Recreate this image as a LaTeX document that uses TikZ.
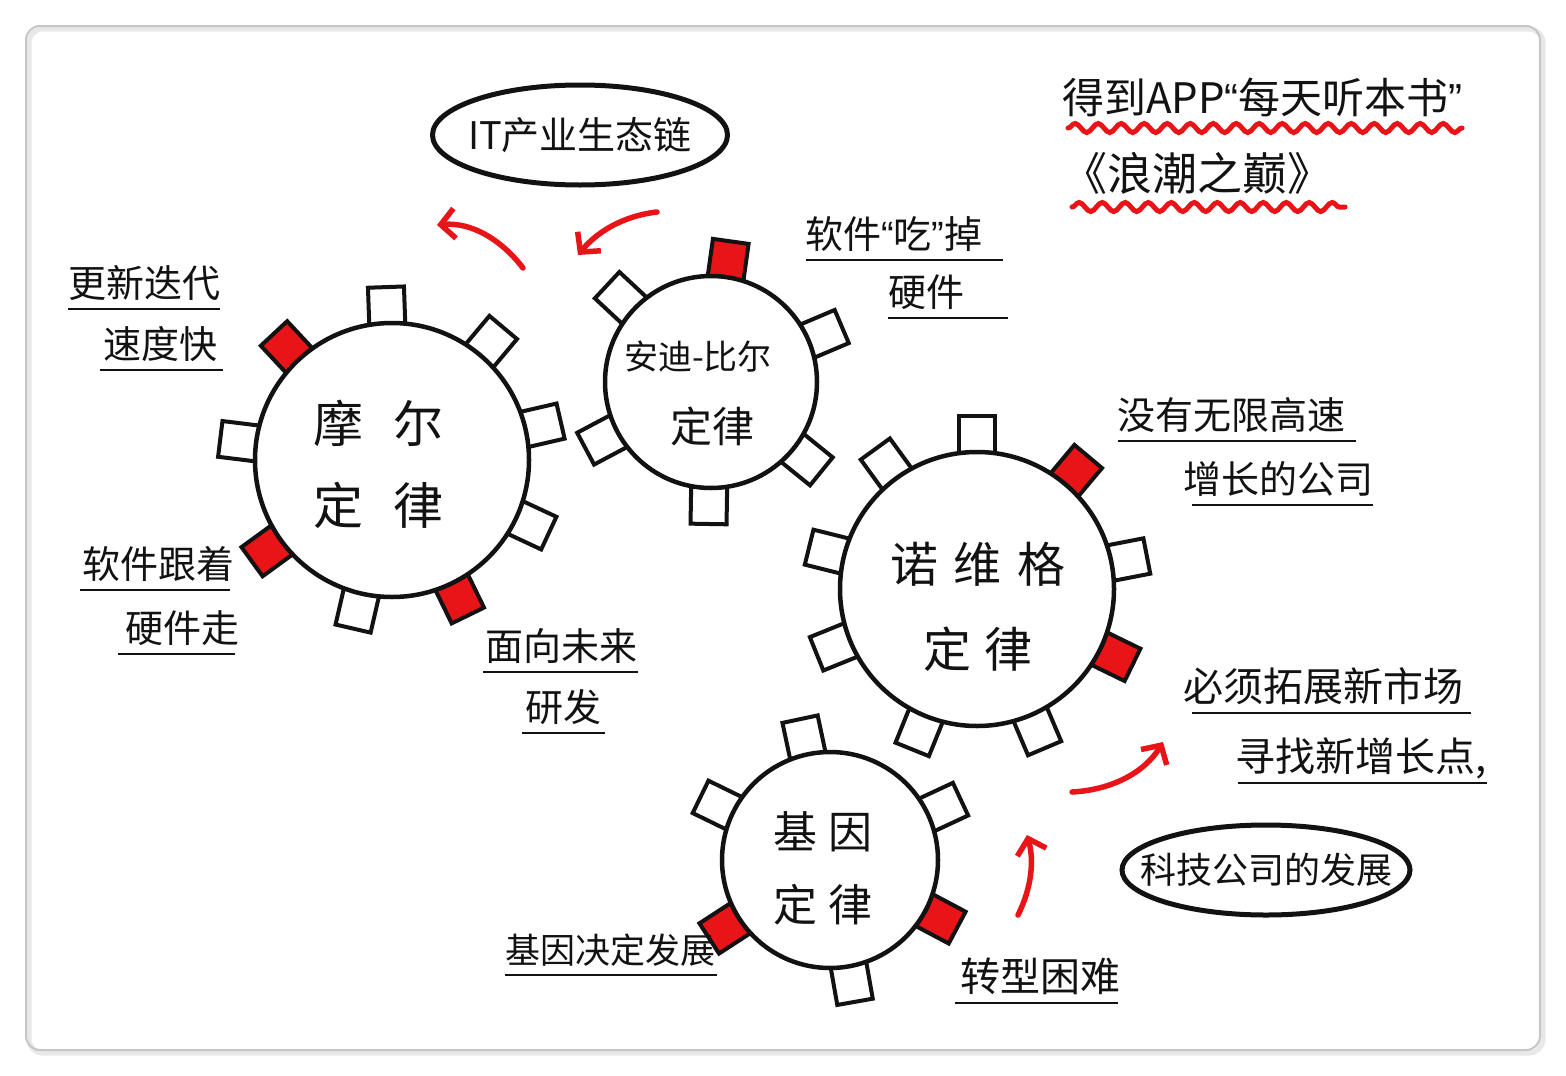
\documentclass[tikz,border=0pt]{standalone}
\usepackage{fontspec}
\newfontfamily\cjk{Noto Sans CJK SC}
\newfontfamily\quo{Liberation Sans}
\usetikzlibrary{shapes.geometric,arrows.meta,decorations.pathmorphing,calc}
\definecolor{penred}{RGB}{232,20,24}
\definecolor{ink}{RGB}{18,18,18}
\newcommand\gtooth[4]{\node[tooth,fill=#4,rotate=#3-90] at ($(#1)+({-1*(#3)}:#2)$) {};}
\newcommand\qleft{{\quo “}}
\newcommand\qright{{\quo ”}}
\begin{document}
\begin{tikzpicture}[x=1pt,y=-1pt,
  tooth/.style={draw=ink,line width=4,minimum width=36,minimum height=44,inner sep=0},
  gear/.style={circle,draw=ink,fill=white,line width=4.5,inner sep=0},
  gtext/.style={font=\cjk,text=ink,align=center,inner sep=0},
  lab/.style={font=\cjk\fontsize{38}{44}\selectfont,text=ink,inner sep=0,anchor=base west},
  uline/.style={draw=ink,line width=2},
  ell/.style={ellipse,draw=ink,line width=5,inner ysep=0,text=ink},
  rarrow/.style={draw=penred,line width=5.5,line cap=round,-{Straight Barb[length=14pt,width=30pt]}},
  wavy/.style={draw=penred,line width=5,line cap=round,decorate,decoration={snake,segment length=23,amplitude=4.5}}
]
\useasboundingbox (0,0) rectangle (1566,1076);
\fill[white] (0,0) rectangle (1566,1076);
% frame
\draw[gray!18,line width=5,rounded corners=14] (29,29) rectangle (1543,1053);
\draw[gray!45,line width=2,rounded corners=14] (26,26) rectangle (1540,1050);

% ---- Moore gear
\coordinate (mc) at (392,460);
\foreach \a in {92,50,13,-25,-103,173} {\gtooth{mc}{151}{\a}{white}}
\foreach \a in {-64,-144,133} {\gtooth{mc}{151}{\a}{penred}}
\node[gear,minimum size=274] (moore) at (mc) {};
\node[gtext,font=\cjk\fontsize{50}{82}\selectfont] (mooreT) at (378,464) {摩\hspace{30pt}尔\\定\hspace{30pt}律};

% ---- Andy-Bill gear
\coordinate (ac) at (711,382);
\foreach \a in {23,-39,-91,-152,137} {\gtooth{ac}{120}{\a}{white}}
\foreach \a in {82} {\gtooth{ac}{120}{\a}{penred}}
\node[gear,minimum size=212] (andy) at (ac) {};
\node[gtext] (andyT1) at (698,357) {\fontsize{34}{40}\selectfont 安迪-比尔};
\node[gtext] (andyT2) at (712,426) {\fontsize{42}{46}\selectfont 定律};

% ---- Norvig gear
\coordinate (nc) at (977,589);
\foreach \a in {90,11,-67,-112,-158,166,126} {\gtooth{nc}{151}{\a}{white}}
\foreach \a in {50,-26} {\gtooth{nc}{151}{\a}{penred}}
\node[gear,minimum size=274] (norvig) at (nc) {};
\node[gtext,font=\cjk\fontsize{48}{85}\selectfont] (norvigT) at (978,607) {诺\hspace{16pt}维\hspace{16pt}格\\定\hspace{14pt}律};

% ---- Gene gear
\coordinate (gc) at (830,860);
\foreach \a in {102,25,-80,154} {\gtooth{gc}{122}{\a}{white}}
\foreach \a in {-28,-147} {\gtooth{gc}{122}{\a}{penred}}
\node[gear,minimum size=216] (gene) at (gc) {};
\node[gtext,font=\cjk\fontsize{44}{73}\selectfont] (geneT) at (823,868) {基\hspace{12pt}因\\定\hspace{12pt}律};

% ---- ellipses
\node[ell,inner xsep=-8pt,minimum width=295,minimum height=100,font=\cjk\fontsize{38}{44}\selectfont] (eco) at (580,135) {IT产业生态链};
\node[ell,inner xsep=-25pt,minimum width=288,minimum height=90,font=\cjk\fontsize{36}{42}\selectfont] (tech) at (1266,870) {科技公司的发展};

% ---- title
\node[inner sep=0,anchor=base west,text=ink,font=\cjk\fontsize{42}{50}\selectfont] (title) at (1062,113) {得到APP\qleft 每天听本书\qright};
\node[inner sep=0,anchor=base west,text=ink,font=\cjk\fontsize{45}{50}\selectfont] (book) at (1062,190) {《浪潮之巅》};
\draw[wavy] (1068,128) -- (1462,128);
\draw[wavy] (1072,207) -- (1345,207);

% ---- labels
\node[lab] (l1) at (68,297) {更新迭代};
\draw[uline] ([shift={(0,12)}]l1.base west) -- ([shift={(0,12)}]l1.base east);
\node[lab] (l2) at (103,358) {速度快};
\draw[uline] ([shift={(-3,12)}]l2.base west) -- ([shift={(6,12)}]l2.base east);

\node[lab] (l3) at (82,578) {软件跟着};
\draw[uline] ([shift={(-2,12)}]l3.base west) -- ([shift={(-4,12)}]l3.base east);
\node[lab] (l4) at (125,642) {硬件走};
\draw[uline] ([shift={(-7,12)}]l4.base west) -- ([shift={(-4,12)}]l4.base east);

\node[lab] (l5) at (485,660) {面向未来};
\draw[uline] ([shift={(-2,12)}]l5.base west) -- ([shift={(1,12)}]l5.base east);
\node[lab] (l6) at (525,721) {研发};
\draw[uline] ([shift={(-3,12)}]l6.base west) -- ([shift={(4,12)}]l6.base east);

\node[lab] (l7) at (805,248) {软件\qleft 吃\qright 掉};
\draw[uline] ([shift={(1,12)}]l7.base west) -- ([shift={(20,12)}]l7.base east);
\node[lab] (l8) at (888,306) {硬件};
\draw[uline] ([shift={(0,12)}]l8.base west) -- ([shift={(44,12)}]l8.base east);

\node[lab] (l9) at (1117,429) {没有无限高速};
\draw[uline] ([shift={(1,12)}]l9.base west) -- ([shift={(11,12)}]l9.base east);
\node[lab] (l10) at (1183,493) {增长的公司};
\draw[uline] ([shift={(9,12)}]l10.base west) -- ([shift={(0,12)}]l10.base east);

\node[lab,font=\cjk\fontsize{40}{46}\selectfont] (l11) at (1183,701) {必须拓展新市场};
\draw[uline] ([shift={(9,12)}]l11.base west) -- ([shift={(8,12)}]l11.base east);
\node[lab,font=\cjk\fontsize{40}{46}\selectfont] (l12) at (1235,771) {寻找新增长点,};
\draw[uline] ([shift={(3,12)}]l12.base west) -- ([shift={(0,12)}]l12.base east);

\node[lab,font=\cjk\fontsize{35}{40}\selectfont] (l13) at (505,963) {基因决定发展};
\draw[uline] ([shift={(0,12)}]l13.base west) -- ([shift={(2,12)}]l13.base east);
\node[lab,font=\cjk\fontsize{40}{46}\selectfont] (l14) at (960,991) {转型困难};
\draw[uline] ([shift={(-5,12)}]l14.base west) -- ([shift={(-2,12)}]l14.base east);

% ---- red arrows
\coordinate (a1s) at (523,268); \coordinate (a1e) at (437,225);
\coordinate (a2s) at (657,212); \coordinate (a2e) at (578,255);
\coordinate (a3s) at (1072,792); \coordinate (a3e) at (1163,742);
\coordinate (a4s) at (1018,915); \coordinate (a4e) at (1027,835);
\draw[rarrow] (a1s) .. controls (500,238) and (470,222) .. (a1e);
\draw[rarrow] (a2s) .. controls (622,216) and (596,233) .. (a2e);
\draw[rarrow] (a3s) .. controls (1112,790) and (1145,772) .. (a3e);
\draw[rarrow] (a4s) .. controls (1032,887) and (1034,860) .. (a4e);
\end{tikzpicture}
\end{document}
